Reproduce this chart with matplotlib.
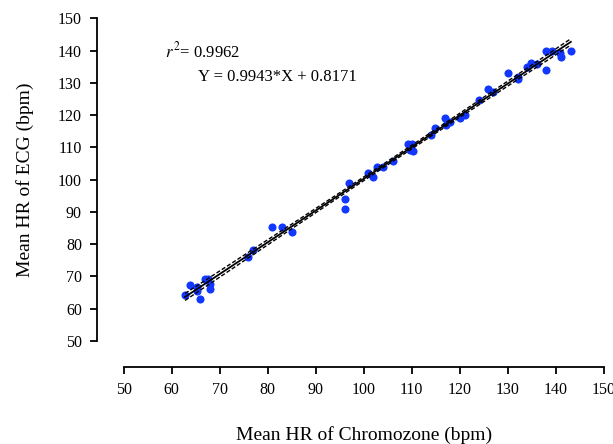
import numpy as np
import matplotlib
matplotlib.use("Agg")
import matplotlib.pyplot as plt

# Data
chromozone_hr = [62.8, 63.8, 65.2, 65.9, 66.9, 67.6, 68.0, 68.0, 65.3,
                 75.9, 77.0, 80.8, 82.9, 85.0,
                 96.0, 96.0, 97.0, 100.9, 102.0, 102.8, 103.9, 106.0,
                 109.1, 109.6, 110.2, 110.0, 113.9, 114.9, 117.0, 117.1,
                 118.0, 120.0, 121.0, 124.0, 125.9, 127.0, 130.0, 132.0,
                 132.2, 133.9, 134.9, 136.0, 137.9, 137.9, 139.1, 140.8,
                 141.0, 143.1]
ecg_hr = [64.1, 67.2, 66.8, 62.9, 69.1, 69.1, 67.8, 66.1, 65.5,
          76.1, 78.2, 85.2, 85.2, 83.9,
          93.9, 90.9, 99.1, 102.2, 100.9, 104.0, 103.9, 105.9,
          111.0, 109.2, 108.9, 111.0, 113.8, 116.0, 119.0, 116.9,
          118.0, 119.0, 120.0, 124.7, 128.0, 127.3, 133.0, 131.1,
          131.9, 135.0, 136.1, 135.7, 140.0, 134.0, 140.0, 139.2,
          137.9, 140.0]
ticks = [50, 60, 70, 80, 90, 100, 110, 120, 130, 140, 150]
r2_text = "0.9962"
eq_text = "Y = 0.9943*X + 0.8171"

x = np.array(chromozone_hr)
y = np.array(ecg_hr)

plt.rcParams['font.family'] = ['Liberation Serif', 'DejaVu Serif']
plt.rcParams['mathtext.fontset'] = 'stix'

fig = plt.figure(figsize=(6.13, 4.44), dpi=100)
ax = fig.add_axes([0.2016, 0.232, 0.7837, 0.7268])

# regression with 95% CI
n = len(x)
slope, intercept = np.polyfit(x, y, 1)
xs = np.linspace(x.min(), x.max(), 200)
ys = slope * xs + intercept
resid = y - (slope * x + intercept)
s = np.sqrt(np.sum(resid ** 2) / (n - 2))
tval = 2.013
se = s * np.sqrt(1 / n + (xs - x.mean()) ** 2 / np.sum((x - x.mean()) ** 2))

ax.scatter(x, y, s=34, color='#1238ff', zorder=2, linewidths=0)
ax.plot(xs, ys, color='black', lw=1.3, zorder=3)
ax.plot(xs, ys + tval * se, color='black', lw=1.0, ls=(0, (3, 1.5)), zorder=3)
ax.plot(xs, ys - tval * se, color='black', lw=1.0, ls=(0, (3, 1.5)), zorder=3)

ax.set_xlim(50, 150)
ax.set_ylim(50, 150)
ax.set_xticks(ticks)
ax.set_yticks(ticks)
ax.tick_params(labelsize=11.5, width=1.3, length=5, direction='out', pad=6)

for side in ['top', 'right']:
    ax.spines[side].set_visible(False)
ax.spines['left'].set_position(('outward', 19))
ax.spines['bottom'].set_position(('outward', 18.5))
ax.spines['left'].set_linewidth(1.3)
ax.spines['bottom'].set_linewidth(1.3)

ax.set_xlabel('Mean HR of Chromozone (bpm)', fontsize=14, labelpad=20)
ax.set_ylabel('Mean HR of ECG (bpm)', fontsize=14, labelpad=17)

ax.text(0.086, 0.896, r'$r$' + r'$^{\,2}$' + '= ' + r2_text, transform=ax.transAxes,
        fontsize=12, va='center', ha='left')
ax.text(0.155, 0.818, eq_text, transform=ax.transAxes,
        fontsize=12, va='center', ha='left')

fig.savefig('out.png', dpi=100)
